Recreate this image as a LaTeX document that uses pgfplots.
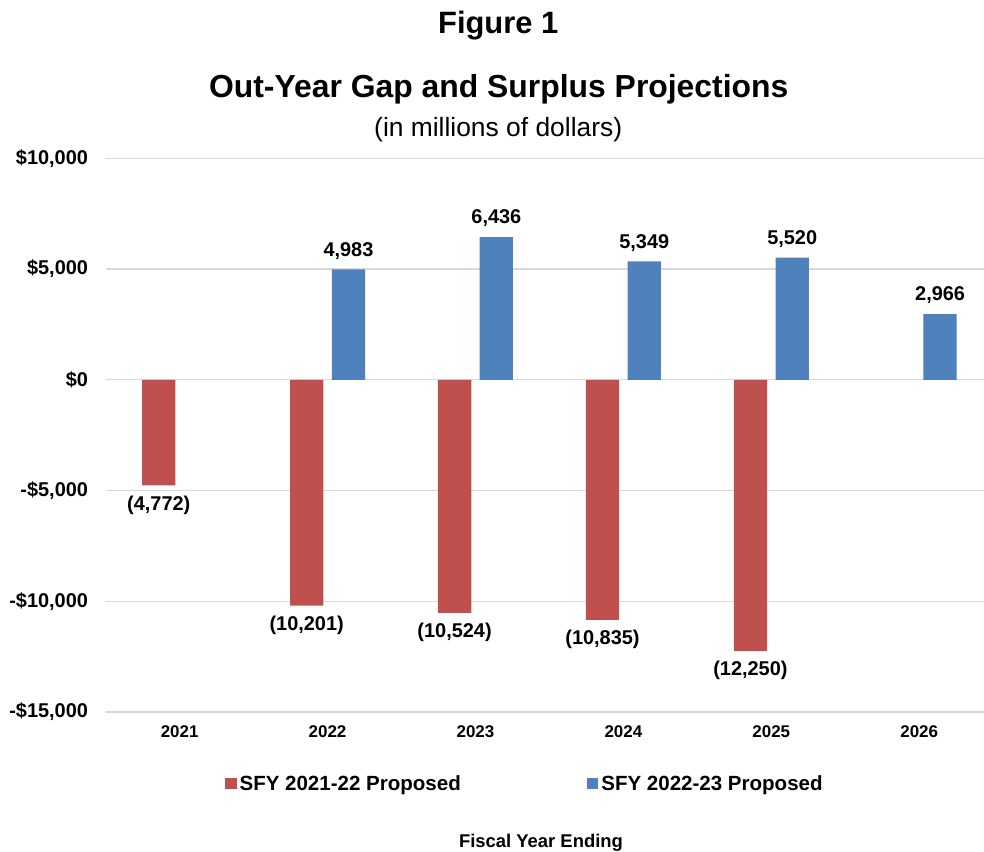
\documentclass[border=0pt]{standalone}
\usepackage{pgfplots}
\pgfplotsset{compat=1.18}
\usepackage{fontspec}
\setmainfont{Liberation Sans}
\definecolor{redbar}{HTML}{C0504D}
\definecolor{bluebar}{HTML}{4F81BD}
\definecolor{gridc}{HTML}{D9D9D9}
\begin{document}
\begin{tikzpicture}
\path[use as bounding box] (-105.7bp,-140bp) rectangle (878.3bp,712bp);
\begin{axis}[
  scale only axis,
  width=887.5bp, height=553.7bp,
  xmin=-0.5, xmax=5.5,
  ymin=-15000, ymax=10000,
  xtick={0,1,2,3,4,5},
  xticklabels={2021,2022,2023,2024,2025,2026},
  ytick={-15000,-10000,-5000,0,5000,10000},
  yticklabels={{-\$15,000},{-\$10,000},{-\$5,000},{\$0},{\$5,000},{\$10,000}},
  scaled y ticks=false,
  ymajorgrids,
  grid style={draw=gridc, line width=1.2bp},
  axis line style={draw=none},
  major tick length=0pt,
  yticklabel style={font=\fontsize{20}{24}\selectfont\bfseries, anchor=east, inner sep=0pt, xshift=-17.5bp},
  xticklabel style={font=\fontsize{17}{20}\selectfont\bfseries, anchor=north, inner sep=0pt, yshift=-13.5bp},
  clip=false,
  legend columns=4,
  legend style={at={(axis description cs:0.1345,-0.129)}, anchor=west, draw=none,
    inner sep=0pt, outer sep=0pt,
    font=\fontsize{20.6}{24}\selectfont\bfseries,
    nodes={inner sep=0pt},
    /tikz/every odd column/.append style={column sep=3bp},
    /tikz/every even column/.append style={column sep=126bp}},
  legend image code/.code={\fill[#1] (0bp,-5.5bp) rectangle (11.5bp,5.5bp);},
  nodes near coords,
  point meta=explicit symbolic,
  every node near coord/.append style={font=\fontsize{20}{24}\selectfont\bfseries, text=black, inner sep=10bp},
]
\addplot[ybar, bar width=0.225, bar shift=-0.141, fill=redbar, draw=none,
  every node near coord/.append style={anchor=north, xshift=-20.9bp}]
  table[x=x, y=y, meta=lab] {
x y lab
0 -4772 {(4,772)}
1 -10201 {(10,201)}
2 -10524 {(10,524)}
3 -10835 {(10,835)}
4 -12250 {(12,250)}
};
\addlegendentry{SFY 2021-22 Proposed}
\addplot[ybar, bar width=0.225, bar shift=0.141, fill=bluebar, draw=none,
  every node near coord/.append style={anchor=south, xshift=20.9bp}]
  table[x=x, y=y, meta=lab] {
x y lab
1 4983 {4,983}
2 6436 {6,436}
3 5349 {5,349}
4 5520 {5,520}
5 2966 {2,966}
};
\addlegendentry{SFY 2022-23 Proposed}
\end{axis}
\node[anchor=base, inner sep=0pt, font=\fontsize{31}{36}\selectfont\bfseries] at (392.5bp,678.7bp) {Figure 1};
\node[anchor=base, inner sep=0pt, font=\fontsize{32}{38}\selectfont\bfseries] at (393bp,614bp) {Out-Year Gap and Surplus Projections};
\node[anchor=base, inner sep=0pt, font=\fontsize{26.5}{32}\selectfont] at (392.5bp,575bp) {(in millions of dollars)};
\node[anchor=base, inner sep=0pt, font=\fontsize{18.5}{22}\selectfont\bfseries] at (435.3bp,-135bp) {Fiscal Year Ending};
\end{tikzpicture}
\end{document}
